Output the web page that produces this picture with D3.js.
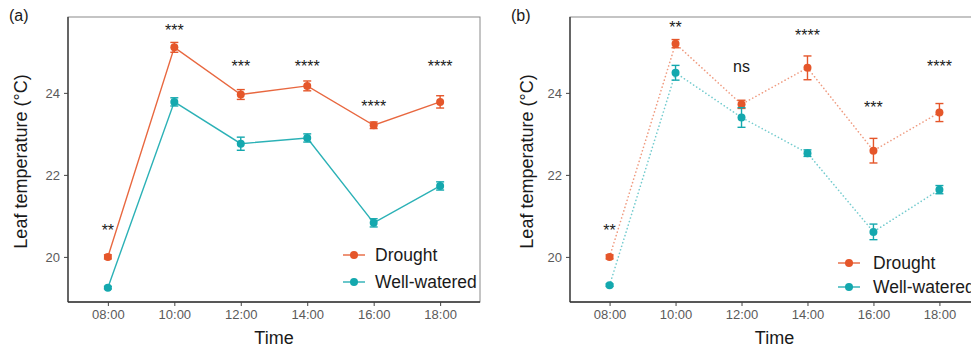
<!DOCTYPE html>
<html>
<head>
<meta charset="utf-8">
<script src="https://cdn.jsdelivr.net/npm/d3@7"></script>
<style>
  html, body { margin: 0; padding: 0; background: #fff; }
  svg { display: block; font-family: "Liberation Sans", Arial, Helvetica, sans-serif; }
</style>
</head>
<body>
<svg id="chart" width="971" height="349"></svg>
<script>
// Sampling times (x categories)
const times = ["08:00", "10:00", "12:00", "14:00", "16:00", "18:00"];
const seriesNames = ["Drought", "Well-watered"];
const yTicks = [20, 22, 24];

// Panel (a): mean leaf temperature and standard error
const droughtA    = [20.00, 25.11, 23.96, 24.17, 23.21, 23.78];
const droughtAErr = [0.05, 0.12, 0.12, 0.12, 0.08, 0.15];
const wellA       = [19.25, 23.78, 22.76, 22.90, 20.83, 21.73];
const wellAErr    = [0.03, 0.10, 0.16, 0.10, 0.10, 0.10];
const sigA        = ["**", "***", "***", "****", "****", "****"];
const sigAY       = [20.73, 25.61, 24.74, 24.75, 23.77, 24.75];

// Panel (b): mean leaf temperature and standard error
const droughtB    = [20.00, 25.20, 23.72, 24.61, 22.59, 23.52];
const droughtBErr = [0.05, 0.10, 0.10, 0.29, 0.30, 0.22];
const wellB       = [19.31, 24.49, 23.40, 22.53, 20.61, 21.64];
const wellBErr    = [0.03, 0.18, 0.24, 0.08, 0.19, 0.10];
const sigB        = ["**", "**", "ns", "****", "***", "****"];
const sigBY       = [20.74, 25.68, 24.63, 25.50, 23.74, 24.75];

const colors = { "Drought": "#E5562A", "Well-watered": "#14A8AE" };
const yDomain = [18.9, 25.85];

const svg = d3.select("#chart");

function drawPanel(cfg) {
  const { left, right, top, bottom, tag, drought, droughtErr, well, wellErr,
          sig, sigY, dotted, legendX, legendY, legendGap } = cfg;

  const x = d3.scalePoint().domain(times).range([left, right]).padding(0.6);
  const y = d3.scaleLinear().domain(yDomain).range([bottom, top]);

  const g = svg.append("g");
  const clipId = "clip-" + tag.replace(/\W/g, "");
  svg.append("clipPath").attr("id", clipId)
    .append("rect").attr("x", 0).attr("y", 0).attr("width", 971).attr("height", 349);

  // Panel border
  g.append("rect")
    .attr("x", left).attr("y", top)
    .attr("width", right - left).attr("height", bottom - top)
    .attr("fill", "none").attr("stroke", "#8a8a8a").attr("stroke-width", 1);

  // Axes
  const xAxis = d3.axisBottom(x).tickSize(4).tickPadding(4);
  const yAxis = d3.axisLeft(y).tickValues(yTicks).tickFormat(d3.format("d"))
    .tickSize(4).tickPadding(4);

  const gx = g.append("g").attr("transform", `translate(0,${bottom})`).call(xAxis);
  const gy = g.append("g").attr("transform", `translate(${left},0)`).call(yAxis);
  [gx, gy].forEach(a => {
    a.select(".domain").attr("stroke", "#333").attr("stroke-width", 1.3);
    a.selectAll(".tick line").attr("stroke", "#444").attr("stroke-width", 1);
    a.selectAll(".tick text").attr("fill", "#5a5a5a").attr("font-size", 13)
      .attr("font-family", "Liberation Sans, Arial, sans-serif");
  });
  gx.select(".domain").attr("d", `M${left},0H${right}`);
  gy.select(".domain").attr("d", `M0,${bottom}V${top}`);

  // Axis titles
  g.append("text")
    .attr("x", (left + right) / 2).attr("y", 344)
    .attr("text-anchor", "middle").attr("font-size", 18).attr("fill", "#1a1a1a")
    .text("Time");
  g.append("text")
    .attr("transform", `translate(${cfg.yTitleX},${(top + bottom) / 2 + 2}) rotate(-90)`)
    .attr("text-anchor", "middle").attr("font-size", 18).attr("fill", "#1a1a1a")
    .text("Leaf temperature (°C)");

  // Panel tag
  g.append("text")
    .attr("x", cfg.tagX).attr("y", 21)
    .attr("font-size", 16).attr("fill", "#1a1a1a")
    .text(tag);

  const series = [
    { name: "Drought", vals: drought, errs: droughtErr },
    { name: "Well-watered", vals: well, errs: wellErr }
  ];

  const plot = g.append("g").attr("clip-path", `url(#${clipId})`);
  const line = d3.line().x((d, i) => x(times[i])).y(d => y(d));

  series.forEach(s => {
    const col = colors[s.name];
    plot.append("path")
      .datum(s.vals)
      .attr("d", line)
      .attr("fill", "none")
      .attr("stroke", col)
      .attr("stroke-width", dotted ? 1.6 : 1.4)
      .attr("stroke-dasharray", dotted ? "0.1,3.6" : null)
      .attr("stroke-linecap", dotted ? "round" : "butt")
      .attr("opacity", dotted ? 0.6 : 0.9);

    const eb = plot.append("g").attr("stroke", col).attr("stroke-width", 1.4).attr("fill", "none");
    s.vals.forEach((v, i) => {
      const cx = x(times[i]);
      const lo = y(v - s.errs[i]), hi = y(v + s.errs[i]);
      eb.append("line").attr("x1", cx).attr("x2", cx).attr("y1", lo).attr("y2", hi);
      eb.append("line").attr("x1", cx - 4).attr("x2", cx + 4).attr("y1", lo).attr("y2", lo);
      eb.append("line").attr("x1", cx - 4).attr("x2", cx + 4).attr("y1", hi).attr("y2", hi);
    });

    plot.selectAll(null).data(s.vals).enter().append("circle")
      .attr("cx", (d, i) => x(times[i]))
      .attr("cy", d => y(d))
      .attr("r", 4)
      .attr("fill", col);
  });

  // Significance labels
  plot.selectAll(null).data(sig).enter().append("text")
    .attr("x", (d, i) => x(times[i]))
    .attr("y", (d, i) => y(sigY[i]) + (d === "ns" ? 5 : 9.5))
    .attr("text-anchor", "middle")
    .attr("font-size", 16)
    .attr("fill", "#1a1a1a")
    .text(d => d);

  // Legend
  const lg = plot.append("g");
  seriesNames.forEach((name, i) => {
    const ly = legendY[i];
    const col = colors[name];
    lg.append("line").attr("x1", legendX - 11).attr("x2", legendX + 11)
      .attr("y1", ly).attr("y2", ly).attr("stroke", col).attr("stroke-width", 1.4)
      .attr("opacity", 0.9);
    lg.append("circle").attr("cx", legendX).attr("cy", ly).attr("r", 4).attr("fill", col);
    lg.append("text").attr("x", legendX + legendGap).attr("y", ly + 6)
      .attr("font-size", 17.5).attr("fill", "#1a1a1a").text(name);
  });
}

drawPanel({
  left: 68, right: 480, top: 17, bottom: 302, tag: "(a)", tagX: 9, yTitleX: 27,
  drought: droughtA, droughtErr: droughtAErr, well: wellA, wellErr: wellAErr,
  sig: sigA, sigY: sigAY, dotted: false, legendX: 354, legendY: [255, 282], legendGap: 21
});

drawPanel({
  left: 570, right: 979, top: 17, bottom: 302, tag: "(b)", tagX: 511, yTitleX: 533,
  drought: droughtB, droughtErr: droughtBErr, well: wellB, wellErr: wellBErr,
  sig: sigB, sigY: sigBY, dotted: true, legendX: 849, legendY: [263, 287], legendGap: 24
});
</script>
</body>
</html>
